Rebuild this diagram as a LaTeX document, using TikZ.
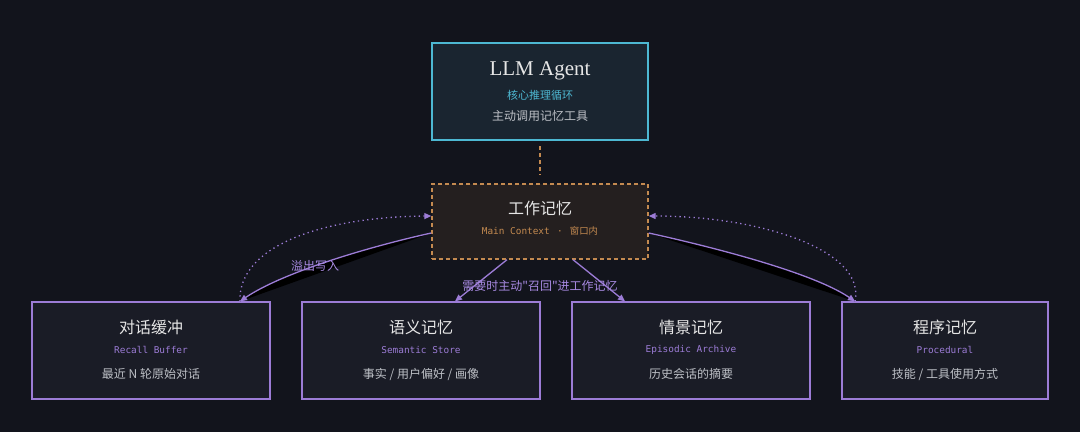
\documentclass[tikz,border=0pt]{standalone}
\usepackage{fontspec}
\setmainfont{Noto Sans CJK SC}[Ligatures=TeXOff]
\setmonofont{DejaVu Sans Mono}
\newfontfamily\serifen{Liberation Serif}
\usetikzlibrary{arrows.meta}
\definecolor{bg}{HTML}{12141C}
\definecolor{agentfill}{HTML}{1A2530}
\definecolor{cyanc}{HTML}{4DB8D2}
\definecolor{wmfill}{HTML}{241F1F}
\definecolor{orangec}{HTML}{C48A50}
\definecolor{boxfill}{HTML}{1A1C26}
\definecolor{purplec}{HTML}{9C7CD6}
\definecolor{titlec}{HTML}{E6E6E6}
\definecolor{grayc}{HTML}{BDC0C6}
\definecolor{lblc}{HTML}{A88AE2}
\tikzset{
  agentbox/.style={draw=cyanc, fill=agentfill, line width=2pt, minimum width=216pt, minimum height=97pt, inner sep=0pt},
  wmbox/.style={draw=orangec, fill=wmfill, line width=1.4pt, dash pattern=on 4pt off 3pt, minimum width=216pt, minimum height=75pt, inner sep=0pt},
  membox/.style={draw=purplec, fill=boxfill, line width=1.3pt, minimum height=97pt, inner sep=0pt},
  ttl/.style={text=titlec, font=\fontsize{16}{18}\selectfont, inner sep=0pt},
  sub/.style={text=purplec, font=\ttfamily\fontsize{9.4}{11}\selectfont, inner sep=0pt},
  desc/.style={text=grayc, font=\fontsize{12}{14}\selectfont, inner sep=0pt},
  lbl/.style={text=lblc, font=\fontsize{12}{14}\selectfont, inner sep=0pt},
  conn/.style={draw=purplec, line width=1.3pt, -{Triangle[length=7pt,width=6pt]}},
  dotconn/.style={draw=purplec, line width=1.3pt, dash pattern=on 1.3pt off 3.4pt, -{Triangle[length=7pt,width=6pt]}},
}
\begin{document}
\begin{tikzpicture}[x=1pt,y=-1pt]
\fill[bg] (0,0) rectangle (1080,432);
\useasboundingbox (0,0) rectangle (1080,432);

% Agent
\node[agentbox] (agent) at (540,91.5) {};
\node[text=titlec, font=\serifen\fontsize{21}{24}\selectfont, inner sep=0pt] (agentT) at (540,70.5) {LLM Agent};
\node[text=cyanc, font=\fontsize{11}{13}\selectfont, inner sep=0pt] (agentS) at (540,95) {核心推理循环};
\node[desc] (agentD) at (540,116) {主动调用记忆工具};

% Working memory
\node[wmbox] (wm) at (540,221.5) {};
\node[ttl] (wmT) at (540,208) {工作记忆};
\node[text=orangec, font=\ttfamily\fontsize{9.4}{11}\selectfont, inner sep=0pt] (wmS) at (540,231) {Main Context \,·\, {\rmfamily 窗口内}};

% Bottom boxes
\node[membox, minimum width=238pt] (b1) at (151,350.5) {};
\node[membox, minimum width=238pt] (b2) at (421,350.5) {};
\node[membox, minimum width=238pt] (b3) at (691,350.5) {};
\node[membox, minimum width=206pt] (b4) at (945,350.5) {};

\node[ttl] (b1T) at (151,327) {对话缓冲};
\node[sub] (b1S) at (151,350) {Recall Buffer};
\node[desc] (b1D) at (151,374) {最近 N 轮原始对话};

\node[ttl] (b2T) at (421,327) {语义记忆};
\node[sub] (b2S) at (421,350) {Semantic Store};
\node[desc] (b2D) at (421,374) {事实 / 用户偏好 / 画像};

\node[ttl] (b3T) at (691,327) {情景记忆};
\node[sub] (b3S) at (691,350) {Episodic Archive};
\node[desc] (b3D) at (691,374) {历史会话的摘要};

\node[ttl] (b4T) at (945,327) {程序记忆};
\node[sub] (b4S) at (945,350) {Procedural};
\node[desc] (b4D) at (945,374) {技能 / 工具使用方式};

% coordinates on node borders
\coordinate (wmL1) at ([yshift=-11.5pt]wm.west);
\coordinate (wmL2) at ([yshift=5.5pt]wm.west);
\coordinate (wmR1) at ([yshift=-11.5pt]wm.east);
\coordinate (wmR2) at ([yshift=5.5pt]wm.east);
\coordinate (b1top) at ([xshift=89pt]b1.north);
\coordinate (b4top) at ([xshift=-90pt]b4.north);
\coordinate (wmB1) at ([xshift=-33pt]wm.south);
\coordinate (wmB2) at ([xshift=33pt]wm.south);
\coordinate (b2top) at ([xshift=34pt]b2.north);
\coordinate (b3top) at ([xshift=-66pt]b3.north);

% Agent -> WM dashed
\draw[orangec, line width=1.3pt, dash pattern=on 4pt off 3pt] ([yshift=-5pt]agent.south) -- ([yshift=8pt]wm.north);

% left solid curve with shadow
\fill[black] (wmL1) .. controls (372,246) and (283,272) .. (b1top) -- cycle;
\draw[conn] (wmL1) .. controls (372,246) and (283,272) .. (b1top);
% left dotted curve
\draw[dotconn] (b1top) .. controls (238,246) and (322,217) .. (wmL2);

% right solid curve with shadow
\fill[black] (wmR1) .. controls (708,246) and (812,272) .. (b4top) -- cycle;
\draw[conn] (wmR1) .. controls (708,246) and (812,272) .. (b4top);
% right dotted curve
\draw[dotconn] (b4top) .. controls (866,250) and (760,216) .. (wmR2);

% middle arrows
\draw[conn] (wmB1) -- (b2top);
\draw[conn] (wmB2) -- (b3top);

% labels
\node[lbl] (l1) at (315,266) {溢出写入};
\node[lbl] (l2) at (540,286) {需要时主动"召回"进工作记忆};
\end{tikzpicture}
\end{document}
